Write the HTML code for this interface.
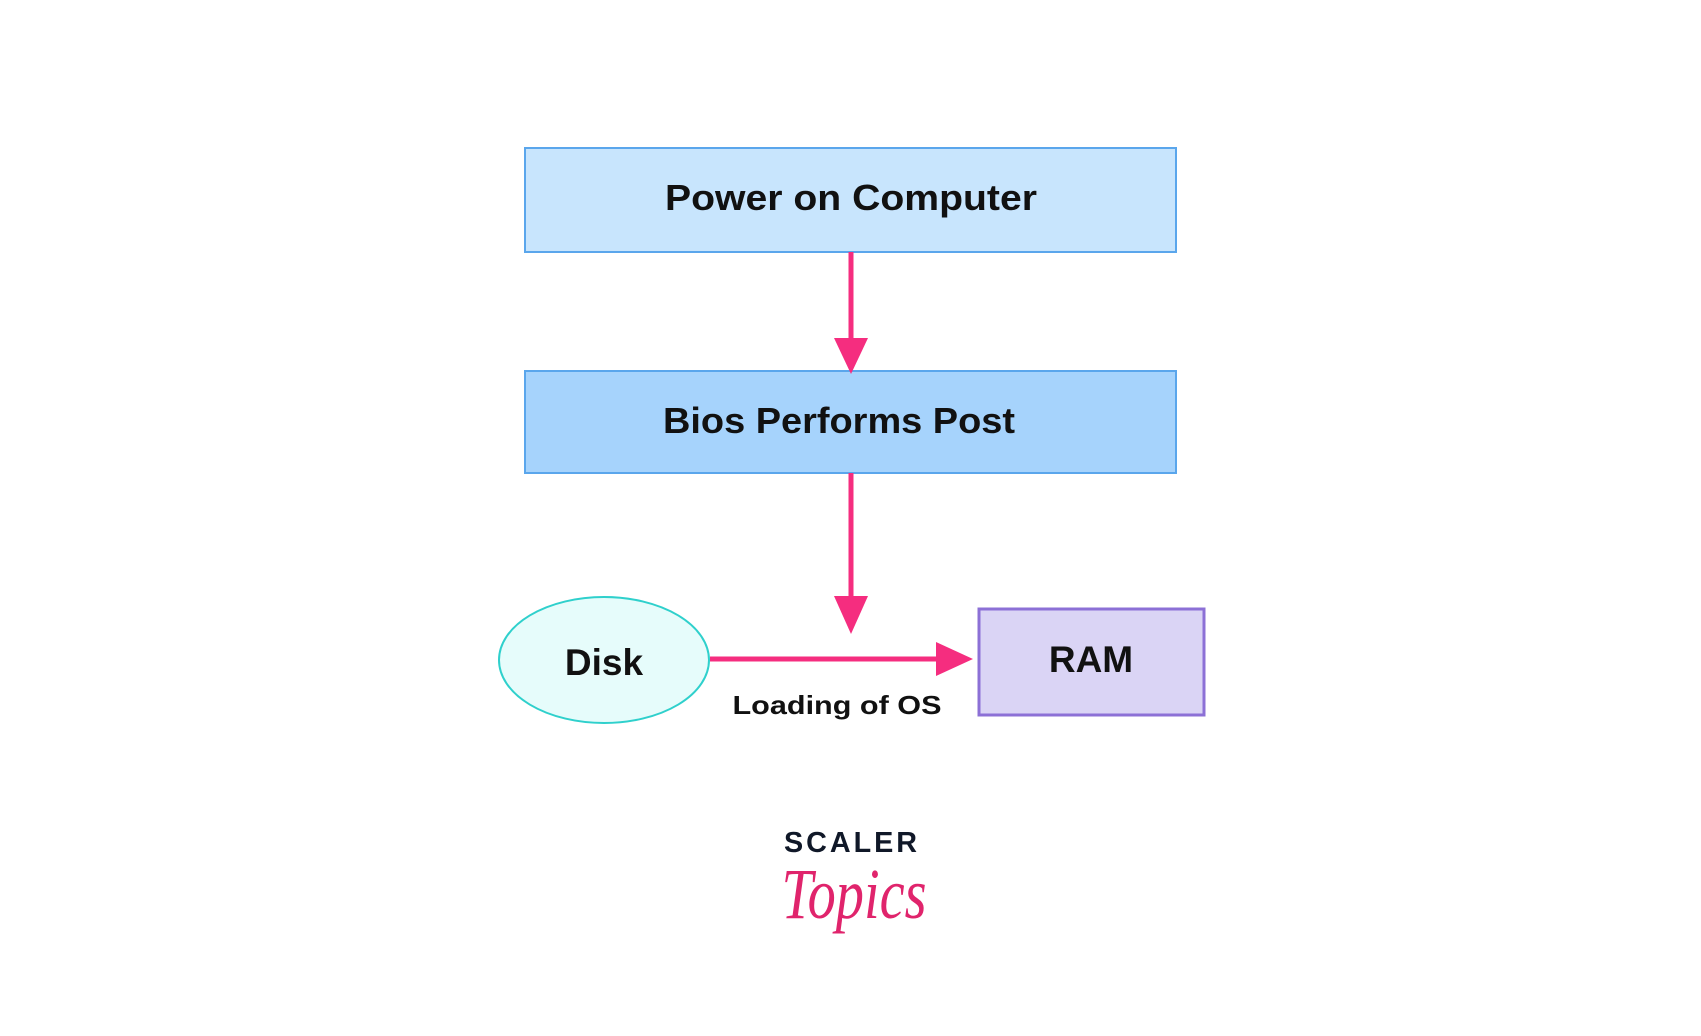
<!DOCTYPE html>
<html><head><meta charset="utf-8"><style>
body{margin:0;background:#fff;}
svg{display:block}
</style></head><body>
<svg width="1701" height="1036" viewBox="0 0 1701 1036" xmlns="http://www.w3.org/2000/svg">
<rect x="0" y="0" width="1701" height="1036" fill="#fff"/>
<g transform="translate(-4,0)">
<rect x="529" y="148" width="651" height="104" fill="#c8e5fd" stroke="#5aa6ec" stroke-width="2"/>
<rect x="529" y="371" width="651" height="102" fill="#a6d3fc" stroke="#5aa6ec" stroke-width="2"/>
<line x1="855" y1="252" x2="855" y2="340" stroke="#f52d7f" stroke-width="5"/>
<polygon points="838,338 872,338 855,374" fill="#f52d7f"/>
<line x1="855" y1="473" x2="855" y2="598" stroke="#f52d7f" stroke-width="5"/>
<polygon points="838,596 872,596 855,634" fill="#f52d7f"/>
<ellipse cx="608" cy="660" rx="105" ry="63" fill="#e6fcfb" stroke="#2fd0cc" stroke-width="2"/>
<line x1="714" y1="659" x2="942" y2="659" stroke="#f52d7f" stroke-width="5"/>
<polygon points="940,642 940,676 977,659" fill="#f52d7f"/>
<rect x="983" y="609" width="225" height="106" fill="#dad4f5" stroke="#8c70d6" stroke-width="3"/>
<g font-family="Liberation Sans, sans-serif" font-weight="bold" fill="#111" text-anchor="middle">
<text x="855" y="210" font-size="36" textLength="372" lengthAdjust="spacingAndGlyphs">Power on Computer</text>
<text x="843" y="433" font-size="36" textLength="352" lengthAdjust="spacingAndGlyphs">Bios Performs Post</text>
<text x="608" y="675" font-size="37">Disk</text>
<text x="1095" y="672" font-size="37">RAM</text>
<text x="841" y="714" font-size="26" textLength="209" lengthAdjust="spacingAndGlyphs">Loading of OS</text>
<text x="856" y="852" font-size="29" fill="#101828" letter-spacing="3" textLength="136" lengthAdjust="spacingAndGlyphs">SCALER</text>
</g>
<text x="858" y="918" font-family="Liberation Serif, serif" font-style="italic" font-size="72" fill="#e0246c" text-anchor="middle" textLength="145" lengthAdjust="spacingAndGlyphs">Topics</text>
</g>
</svg>
</body></html>
